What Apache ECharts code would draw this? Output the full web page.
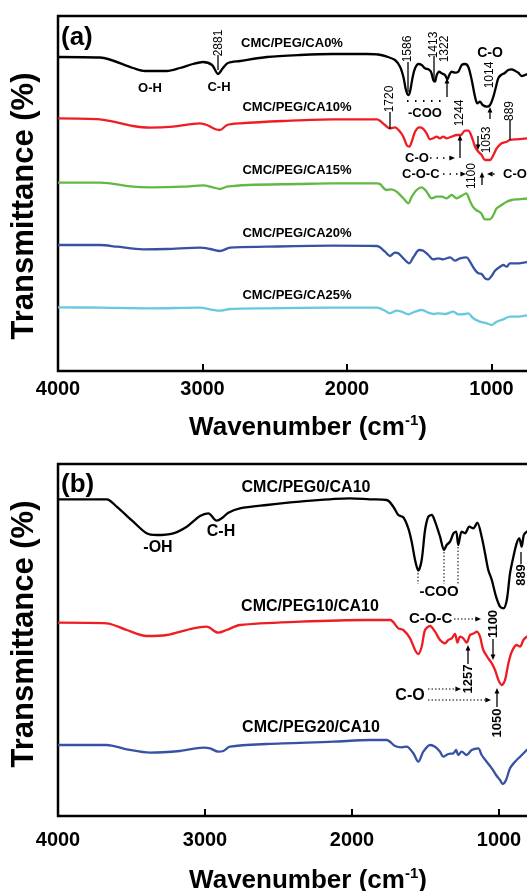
<!DOCTYPE html>
<html>
<head>
<meta charset="utf-8">
<script src="https://cdn.jsdelivr.net/npm/echarts@6/dist/echarts.min.js"></script>
<style>
  html, body { margin: 0; padding: 0; background: #fff; }
  #chart { width: 527px; height: 891px; }
</style>
</head>
<body>
<div id="chart"></div>
<script>
;(function() {
  var FONT = '"Liberation Sans", Arial, sans-serif';

  // x ticks (cm-1)
  var xTicks = [4000, 3000, 2000, 1000];

  // panel (a): CMC/PEG/CA x%  -- [wavenumber, transmittance (arb. units)]
  var a_CA0 = [[4000,314],[3709,313.5],[3481,303],[3398,300],[3246,300],[3156,303],[3066,307],[2997,309],[2934,306],[2893,297],[2858,303],[2824,308],[2740,310],[2554,314],[2325,316],[2097,317],[1862,317],[1785,316.5],[1723,314.3],[1668,311],[1633,304.3],[1610,294.3],[1592,281],[1576,276],[1564,279.3],[1545,294.3],[1529,302.7],[1506,307],[1483,306],[1460,302.7],[1437,301.7],[1419,299.3],[1403,291],[1391,289.3],[1379,296],[1361,299.3],[1345,297.7],[1322,296],[1306,291.7],[1292,296],[1276,299.3],[1253,298.3],[1230,299.3],[1206,306],[1184,307],[1161,304.3],[1137,291],[1114,274.3],[1098,267.7],[1080,269.3],[1061,266],[1033,264.3],[1010,266],[987,274.3],[969,284.3],[953,292.7],[934,296],[911,297.7],[884,301],[860,301.7],[838,300.3],[815,298.3],[791,295],[768,296],[740,297.5]];
  var a_CA10 = [[4000,252.7],[3709,251.7],[3481,245],[3363,243.3],[3204,244.3],[3017,247.7],[2969,246],[2914,242],[2879,241],[2830,246],[2740,247.7],[2443,250],[2097,251.7],[1793,251.7],[1772,250.3],[1737,246],[1703,242.7],[1668,243.7],[1633,239.3],[1610,234.3],[1587,226],[1569,224.3],[1552,229.3],[1529,239.3],[1500,243.7],[1476,242.7],[1449,237.7],[1426,231.7],[1403,232.7],[1379,234.3],[1357,232.7],[1334,234.3],[1310,232.7],[1276,234.3],[1241,236],[1213,236],[1184,240.3],[1161,240.3],[1137,234.3],[1114,224.3],[1091,219.3],[1068,216],[1045,211],[1010,211],[987,216],[964,222.7],[930,227.7],[895,229.3],[872,231],[826,231.7],[740,232.7]];
  var a_CA15 = [[4000,188.3],[3709,188.3],[3481,184.3],[3363,183.7],[3135,184.3],[2997,185.7],[2928,183.7],[2879,182],[2830,184.3],[2685,186],[2339,187],[2097,187.7],[1793,187.7],[1772,187],[1726,181],[1692,181.7],[1657,179.3],[1610,172.7],[1576,167.7],[1552,174.3],[1518,181],[1483,183.7],[1449,179.3],[1414,172.7],[1379,174.3],[1345,174.3],[1310,172.7],[1276,176],[1241,172.7],[1209,175],[1175,177.7],[1152,171],[1129,164.3],[1106,161],[1071,157.7],[1045,151.7],[1010,151.7],[987,156],[964,162.7],[930,166],[895,169.3],[860,171],[814,171.7],[740,172.7]];
  var a_CA20 = [[4000,126],[3709,126],[3592,124.3],[3412,121.7],[3246,122],[3017,123.3],[2948,122],[2879,120],[2810,123.3],[2554,124.3],[2097,125.3],[1793,125],[1772,123.7],[1737,119.3],[1703,115],[1668,118.3],[1645,117.7],[1610,112.7],[1569,107.7],[1541,113.7],[1500,121],[1472,120.3],[1437,116],[1403,111.7],[1368,112.7],[1334,111.7],[1287,113.7],[1253,110.3],[1218,112.7],[1172,113.7],[1149,109.3],[1114,101],[1091,97.7],[1068,97],[1045,92.7],[1022,91.7],[999,95],[976,100.3],[941,104.3],[918,106],[895,104.3],[872,107.7],[826,107.7],[740,109.3]];
  var a_CA25 = [[4000,63.7],[3709,63.3],[3363,62.7],[3017,63.3],[2948,61.7],[2879,60.3],[2810,62],[2554,62.7],[2097,63.3],[1793,63.3],[1772,62.7],[1737,60.3],[1703,57.7],[1657,60.3],[1622,59.3],[1576,56.7],[1529,59.3],[1483,61],[1437,58.3],[1403,57],[1368,57.7],[1322,57],[1264,59.3],[1230,56.7],[1184,57],[1161,57.7],[1126,52.7],[1080,49.3],[1033,47.7],[999,46],[964,49.3],[918,51.7],[872,54.3],[826,54.3],[740,56]];

  // panel (b): CMC/PEG y/CA10
  var b_PEG0 = [[4000,316.7],[3669,316.7],[3601,309.3],[3488,294.3],[3397,282.7],[3329,281],[3216,282.7],[3124,289.3],[3034,300],[2978,302.7],[2921,295.3],[2886,297.7],[2841,303.3],[2762,307.7],[2580,311],[2354,314.3],[2014,317.7],[1878,316.7],[1764,316],[1719,309.3],[1685,301],[1651,298.7],[1617,287.7],[1594,274.3],[1571,256],[1549,245.3],[1526,256],[1503,286],[1481,299.3],[1458,301],[1435,294.3],[1401,279.3],[1374,266],[1356,271],[1333,274.3],[1310,282.7],[1292,284.3],[1277,271],[1254,284.3],[1231,282.7],[1202,289.3],[1175,287.7],[1148,293.3],[1118,279.3],[1095,262.7],[1073,246],[1049,236],[1020,219.3],[993,209.3],[970,207.7],[947,216],[925,242.7],[902,259.3],[880,272.7],[862,277.7],[846,269.3],[831,281],[811,284.3],[780,286]];
  var b_PEG10 = [[4000,193.3],[3669,192.7],[3533,186],[3397,180],[3261,181],[3080,187.7],[2989,189.3],[2910,183.3],[2853,186],[2762,191],[2354,194.3],[1900,196],[1741,196],[1685,187.7],[1651,186],[1605,177.7],[1571,166],[1549,162],[1526,169.3],[1503,186],[1469,190],[1435,184.3],[1401,176],[1367,172.7],[1345,176],[1322,177.7],[1299,182],[1283,173.3],[1265,179.3],[1243,177.7],[1220,173.3],[1197,181],[1170,182.7],[1152,184.3],[1129,179.3],[1107,166],[1073,157.7],[1049,152.7],[1027,146],[1004,136],[981,131],[959,136],[936,152.7],[913,164.3],[880,171],[857,169.3],[834,176],[811,179.3],[780,182]];
  var b_PEG20 = [[4000,71],[3669,71],[3533,66.7],[3374,63.3],[3170,65],[3012,68.3],[2966,67.7],[2910,64.3],[2876,65],[2830,69.3],[2580,72],[2127,74.3],[1878,76],[1764,76],[1707,70],[1662,68.7],[1628,69.3],[1583,62.7],[1549,54.3],[1515,64.3],[1469,71],[1435,69.3],[1401,64.3],[1379,59.3],[1345,62],[1310,62.7],[1292,66],[1277,61],[1254,64.3],[1220,61],[1186,66],[1141,67.7],[1118,61],[1084,54.3],[1049,47.7],[1020,41],[993,36],[975,32],[952,36],[925,47.7],[891,54.3],[857,59.3],[823,64.3],[811,66],[780,68]];

  var BLACK = '#000', RED = '#ee1d23', GREEN = '#62b844', BLUE = '#3852a3', CYAN = '#67c9e0';

  function spec(name, data, color, idx) {
    return {
      name: name, type: 'line', xAxisIndex: idx, yAxisIndex: idx, data: data,
      showSymbol: false, smooth: 0.3, clip: true,
      lineStyle: { color: color, width: 2.3 }, itemStyle: { color: color }
    };
  }

  function xAxis(idx, margin) {
    return {
      gridIndex: idx, type: 'value', inverse: true, min: 0, max: 4000, interval: 1000,
      axisLine: { show: false },
      axisTick: { inside: true, length: 7, lineStyle: { color: '#000', width: 2 } },
      axisLabel: { color: '#000', fontSize: 20, fontWeight: 'bold', fontFamily: FONT, margin: margin,
        formatter: function(v) { return xTicks.indexOf(v) >= 0 ? String(v) : ''; } },
      splitLine: { show: false }
    };
  }

  // ---- annotation helpers (pixel positions) ----
  var g = [];
  function txt(x, y, s, size, bold, align) {
    g.push({ type: 'text', x: x, y: y, z: 50, style: {
      text: s, x: 0, y: 0, fill: '#000',
      font: (bold ? 'bold ' : '') + size + 'px ' + FONT,
      align: align || 'center', verticalAlign: 'middle',
      textAlign: align || 'center', textVerticalAlign: 'middle' } });
  }
  function vtxt(x, y, s, size, bold) {
    g.push({ type: 'text', x: x, y: y, rotation: Math.PI / 2, z: 50, style: {
      text: s, x: 0, y: 0, fill: '#000',
      font: (bold ? 'bold ' : '') + size + 'px ' + FONT,
      align: 'center', verticalAlign: 'middle', textAlign: 'center', textVerticalAlign: 'middle' } });
  }
  function seg(x1, y1, x2, y2, dash, w) {
    g.push({ type: 'line', z: 50, shape: { x1: x1, y1: y1, x2: x2, y2: y2 },
      style: { stroke: '#000', lineWidth: w || 1.3, lineDash: dash || null } });
  }
  function head(x, y, dir) {
    var s = 3.5, pts;
    if (dir === 'up') pts = [[x, y], [x - s * 0.7, y + s * 1.6], [x + s * 0.7, y + s * 1.6]];
    else if (dir === 'down') pts = [[x, y], [x - s * 0.7, y - s * 1.6], [x + s * 0.7, y - s * 1.6]];
    else if (dir === 'right') pts = [[x, y], [x - s * 1.6, y - s * 0.7], [x - s * 1.6, y + s * 0.7]];
    else pts = [[x, y], [x + s * 1.6, y - s * 0.7], [x + s * 1.6, y + s * 0.7]];
    g.push({ type: 'polygon', z: 50, shape: { points: pts }, style: { fill: '#000' } });
  }
  function axisTitle(x, y) {
    g.push({ type: 'text', x: x, y: y, z: 50, style: {
      text: '{a|Wavenumber (cm}{b|-1}{a|)}', x: 0, y: 0, fill: '#000',
      align: 'center', verticalAlign: 'middle', textAlign: 'center', textVerticalAlign: 'middle',
      rich: {
        a: { fontSize: 26, fontWeight: 'bold', fontFamily: FONT, lineHeight: 30, fill: '#000', color: '#000' },
        b: { fontSize: 15, fontWeight: 'bold', fontFamily: FONT, lineHeight: 14, verticalAlign: 'top', fill: '#000', color: '#000' }
      } } });
  }

  // panel (a)
  vtxt(24, 206, 'Transmittance (%)', 31, true);
  txt(61, 38, '(a)', 26, true, 'left');
  txt(292, 43, 'CMC/PEG/CA0%', 13, true);
  txt(150, 88, 'O-H', 13, true);
  txt(219, 87, 'C-H', 13, true);
  vtxt(219, 43, '2881', 12); seg(218, 55, 218, 70);
  vtxt(408, 49, '1586', 12); seg(408, 62, 408, 92);
  vtxt(434, 45, '1413', 12); seg(434, 56, 434, 80);
  vtxt(445, 49, '1322', 12); seg(447, 97, 447, 82); head(447, 78, 'up');
  txt(490, 53, 'C-O', 14, true);
  vtxt(490, 75, '1014', 12); seg(490, 119, 490, 111); head(490, 107, 'up');
  seg(407, 101, 442, 101, [1.5, 6.5], 1.8);
  txt(425, 113, '-COO', 13, true);
  txt(297, 107, 'CMC/PEG/CA10%', 13, true);
  vtxt(390, 99, '1720', 12); seg(390, 112, 390, 129);
  vtxt(460, 113, '1244', 12); seg(460, 158, 460, 139); head(460, 135, 'up');
  txt(405, 158, 'C-O', 13, true, 'left'); seg(430, 158, 450, 158, [1.5, 5], 1.5); head(455, 158, 'right');
  seg(478, 136, 478, 146); head(478, 150, 'down');
  vtxt(487, 140, '1053', 12);
  vtxt(510, 111, '889', 12); seg(510, 120, 510, 140);
  txt(402, 174, 'C-O-C', 13, true, 'left'); seg(443, 174, 461, 174, [1.5, 5], 1.5); head(466, 174, 'right');
  vtxt(472, 176, '1100', 12);
  seg(482, 185, 482, 176); head(482, 172, 'up');
  head(487, 174, 'left'); seg(493, 174, 499, 174, [1.5, 5], 1.5);
  txt(503, 174, 'C-O', 13, true, 'left');
  txt(297, 170, 'CMC/PEG/CA15%', 13, true);
  txt(297, 233, 'CMC/PEG/CA20%', 13, true);
  txt(297, 295, 'CMC/PEG/CA25%', 13, true);
  axisTitle(308, 428);

  // panel (b)
  vtxt(24, 634, 'Transmittance (%)', 31, true);
  txt(61, 485, '(b)', 26, true, 'left');
  txt(306, 488, 'CMC/PEG0/CA10', 16, true);
  txt(158, 548, '-OH', 16, true);
  txt(221, 532, 'C-H', 16, true);
  seg(418, 573, 418, 584, [1.5, 2], 1);
  seg(444, 552, 444, 584, [1.5, 2], 1);
  seg(458, 547, 458, 584, [1.5, 2], 1);
  txt(439, 592, '-COO', 15, true);
  vtxt(521, 575, '889', 13, true); seg(521, 552, 521, 564);
  txt(310, 607, 'CMC/PEG10/CA10', 16, true);
  txt(409, 619, 'C-O-C', 15, true, 'left'); seg(454, 619, 476, 619, [1.5, 2], 1); head(481, 619, 'right');
  vtxt(493, 624, '1100', 13, true);
  seg(493, 639, 493, 655); head(493, 660, 'down');
  vtxt(468, 679, '1257', 13, true);
  seg(468, 664, 468, 650); head(468, 645, 'up');
  txt(410, 696, 'C-O', 16, true);
  seg(428, 689, 456, 689, [1.5, 2], 1); head(461, 689, 'right');
  seg(428, 700, 486, 700, [1.5, 2], 1); head(491, 700, 'right');
  vtxt(497, 723, '1050', 13, true);
  seg(497, 707, 497, 693); head(497, 688, 'up');
  txt(311, 728, 'CMC/PEG20/CA10', 16, true);
  axisTitle(308, 881);

  var chart = echarts.init(document.getElementById('chart'), null, { renderer: 'canvas' });
  chart.setOption({
    animation: false,
    backgroundColor: '#fff',
    grid: [
      { left: 58, top: 16, width: 578, height: 355, show: true, borderColor: '#000', borderWidth: 2.5, outerBoundsMode: 'none', containLabel: false },
      { left: 58, top: 464, width: 588, height: 352, show: true, borderColor: '#000', borderWidth: 2.5, outerBoundsMode: 'none', containLabel: false }
    ],
    xAxis: [xAxis(0, 8), xAxis(1, 14)],
    yAxis: [
      { gridIndex: 0, type: 'value', min: 0, max: 355, show: false, splitLine: { show: false } },
      { gridIndex: 1, type: 'value', min: 0, max: 352, show: false, splitLine: { show: false } }
    ],
    series: [
      spec('CMC/PEG/CA0%', a_CA0, BLACK, 0),
      spec('CMC/PEG/CA10%', a_CA10, RED, 0),
      spec('CMC/PEG/CA15%', a_CA15, GREEN, 0),
      spec('CMC/PEG/CA20%', a_CA20, BLUE, 0),
      spec('CMC/PEG/CA25%', a_CA25, CYAN, 0),
      spec('CMC/PEG0/CA10', b_PEG0, BLACK, 1),
      spec('CMC/PEG10/CA10', b_PEG10, RED, 1),
      spec('CMC/PEG20/CA10', b_PEG20, BLUE, 1)
    ],
    graphic: g
  });
})();
</script>
</body>
</html>
